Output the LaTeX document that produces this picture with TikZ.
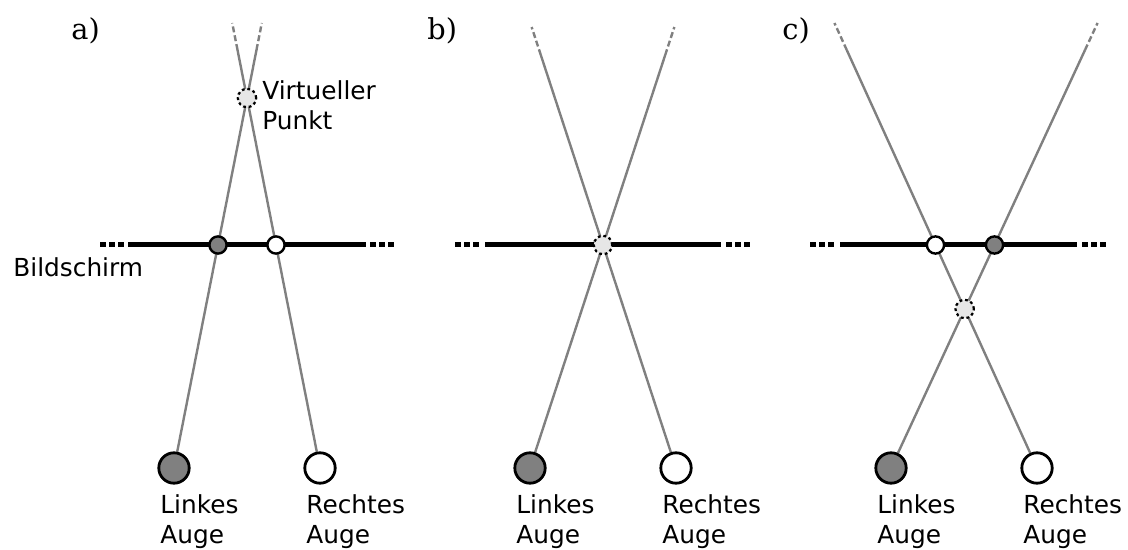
\documentclass[tikz,border=0pt]{standalone}
\usepackage{fontspec}
\newfontfamily\dvs{DejaVu Sans}
\newfontfamily\dvserif{DejaVu Serif}
\usetikzlibrary{calc,backgrounds}
\definecolor{midgray}{HTML}{808080}
\definecolor{lightfill}{HTML}{E6E6E6}
\tikzset{
 eyestyle/.style={circle, draw=black, line width=1.4pt, minimum size=15.2pt, inner sep=0pt},
 ptstyle/.style={circle, draw=black, line width=1.2pt, minimum size=8.6pt, inner sep=0pt},
 virt/.style={circle, draw=black, line width=1.1pt, dash pattern=on 1.4pt off 1.4pt, fill=lightfill, minimum size=9.2pt, inner sep=0pt},
 ray/.style={draw=midgray, line width=1.2pt},
 raydash/.style={ray, dash pattern=on 3pt off 1.5pt},
 screen/.style={line width=2.5pt},
 screendots/.style={line width=2.5pt, dash pattern=on 2.9pt off 1.6pt},
 lbl/.style={font=\dvs\fontsize{12.4}{15.2}\selectfont, align=left, anchor=north west, inner sep=0pt},
 panel/.style={font=\dvserif\fontsize{14.4}{17}\selectfont, anchor=base west, inner sep=0pt},
}
\begin{document}
\begin{tikzpicture}[x=0.5pt,y=-0.5pt]
\useasboundingbox (0,0) rectangle (1128,550);

% ---------- panel a ----------
\node[panel] (la) at (71,40) {a)};
\node[eyestyle, fill=midgray] (eLa) at (174,468) {};
\node[eyestyle, fill=white] (eRa) at (320,468) {};
\node[ptstyle, fill=midgray] (pLa) at (218,245) {};
\node[ptstyle, fill=white] (pRa) at (276,245) {};
\node[virt] (va) at (247,98) {};
\node[lbl] (tLa) at (160,494) {Linkes\\Auge};
\node[lbl] (tRa) at (306,494) {Rechtes\\Auge};
\node[lbl] (tva) at (262,80) {Virtueller\\Punkt};
\node[lbl] (tscr) at (13,257) {Bildschirm};
\coordinate (sLa) at ($(eLa.center)!1.8744!(pLa.center)$);
\coordinate (dLa) at ($(eLa.center)!1.9955!(pLa.center)$);
\coordinate (sRa) at ($(eRa.center)!1.8744!(pRa.center)$);
\coordinate (dRa) at ($(eRa.center)!1.9955!(pRa.center)$);
\coordinate (a1) at (100,245); \coordinate (a2) at (124,245);
\coordinate (a3) at (128,245); \coordinate (a4) at (366,245);
\coordinate (a5) at (370,245); \coordinate (a6) at (396,245);

% ---------- panel b ----------
\node[panel] (lb) at (427,40) {b)};
\node[eyestyle, fill=midgray] (eLb) at (530,468) {};
\node[eyestyle, fill=white] (eRb) at (676,468) {};
\node[virt] (vb) at (603,245) {};
\node[lbl] (tLb) at (516,494) {Linkes\\Auge};
\node[lbl] (tRb) at (662,494) {Rechtes\\Auge};
\coordinate (sLb) at ($(eLb.center)!1.852!(vb.center)$);
\coordinate (dLb) at ($(eLb.center)!1.9776!(vb.center)$);
\coordinate (sRb) at ($(eRb.center)!1.852!(vb.center)$);
\coordinate (dRb) at ($(eRb.center)!1.9776!(vb.center)$);
\coordinate (b1) at (455,245); \coordinate (b2) at (479,245);
\coordinate (b3) at (485,245); \coordinate (b4) at (721,245);
\coordinate (b5) at (726,245); \coordinate (b6) at (751,245);

% ---------- panel c ----------
\node[panel] (lc) at (782,40) {c)};
\node[eyestyle, fill=midgray] (eLc) at (891,468) {};
\node[eyestyle, fill=white] (eRc) at (1037,468) {};
\node[ptstyle, fill=white] (pRc) at (935.5,245) {};
\node[ptstyle, fill=midgray] (pLc) at (994.5,245) {};
\node[virt] (vc) at (964.7,309) {};
\node[lbl] (tLc) at (877,494) {Linkes\\Auge};
\node[lbl] (tRc) at (1023,494) {Rechtes\\Auge};
\coordinate (sLc) at ($(eLc.center)!1.8744!(pLc.center)$);
\coordinate (dLc) at ($(eLc.center)!1.9955!(pLc.center)$);
\coordinate (sRc) at ($(eRc.center)!1.8744!(pRc.center)$);
\coordinate (dRc) at ($(eRc.center)!1.9955!(pRc.center)$);
\coordinate (c1) at (810,245); \coordinate (c2) at (834,245);
\coordinate (c3) at (840,245); \coordinate (c4) at (1077,245);
\coordinate (c5) at (1082,245); \coordinate (c6) at (1107,245);

\begin{pgfonlayer}{background}
 % rays
 \draw[ray] (eLa) -- (sLa); \draw[raydash] (sLa) -- (dLa);
 \draw[ray] (eRa) -- (sRa); \draw[raydash] (sRa) -- (dRa);
 \draw[ray] (eLb) -- (sLb); \draw[raydash] (sLb) -- (dLb);
 \draw[ray] (eRb) -- (sRb); \draw[raydash] (sRb) -- (dRb);
 \draw[ray] (eLc) -- (sLc); \draw[raydash] (sLc) -- (dLc);
 \draw[ray] (eRc) -- (sRc); \draw[raydash] (sRc) -- (dRc);
 % screens
 \draw[screendots] (a1) -- (a2); \draw[screen] (a3) -- (a4); \draw[screendots] (a5) -- (a6);
 \draw[screendots] (b1) -- (b2); \draw[screen] (b3) -- (b4); \draw[screendots] (b5) -- (b6);
 \draw[screendots] (c1) -- (c2); \draw[screen] (c3) -- (c4); \draw[screendots] (c5) -- (c6);
\end{pgfonlayer}
\end{tikzpicture}
\end{document}
